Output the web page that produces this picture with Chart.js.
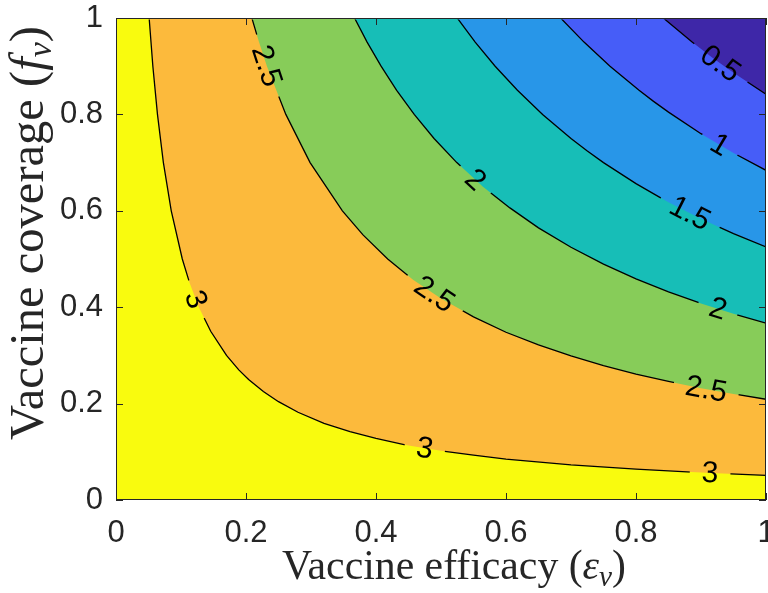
<!DOCTYPE html>
<html><head><meta charset="utf-8">
<script src="https://cdn.jsdelivr.net/npm/chart.js@4.4.0/dist/chart.umd.min.js"></script>
<style>html,body{margin:0;padding:0;background:#fff}</style>
</head><body>
<canvas id="c" width="768" height="593" style="display:block"></canvas>
<script>
// ---- data ----
const levels = [3, 2.5, 2, 1.5, 1, 0.5];
const xTicks = [0, 0.2, 0.4, 0.6, 0.8, 1];
const yTicks = [0, 0.2, 0.4, 0.6, 0.8, 1];

const e3  = [0, 0.051, 0.0567, 0.0638, 0.0729, 0.085, 0.102, 0.1133, 0.1275, 0.1457, 0.17, 0.1889, 0.204, 0.2267, 0.25, 0.28, 0.32, 0.36, 0.4, 0.45, 0.5, 0.55, 0.6, 0.7, 0.8, 0.9, 1];
const f3  = [1, 1, 0.9, 0.8, 0.7, 0.6, 0.5, 0.45, 0.4, 0.35, 0.3, 0.27, 0.25, 0.225, 0.204, 0.182, 0.159, 0.142, 0.128, 0.113, 0.102, 0.093, 0.085, 0.073, 0.064, 0.057, 0.051];
const e25 = [0, 0.209, 0.22, 0.2322, 0.2613, 0.2986, 0.3483, 0.38, 0.418, 0.457, 0.5, 0.55, 0.6, 0.65, 0.7, 0.75, 0.8, 0.85, 0.9, 0.95, 1];
const f25 = [1, 1, 0.95, 0.9, 0.8, 0.7, 0.6, 0.55, 0.5, 0.457, 0.418, 0.38, 0.348, 0.322, 0.299, 0.279, 0.261, 0.246, 0.232, 0.22, 0.209];
const e2  = [0, 0.367, 0.3863, 0.4078, 0.4318, 0.4588, 0.4893, 0.5243, 0.5646, 0.606, 0.65, 0.7, 0.75, 0.8, 0.85, 0.9, 0.95, 1];
const f2  = [1, 1, 0.95, 0.9, 0.85, 0.8, 0.75, 0.7, 0.65, 0.606, 0.5646, 0.5243, 0.4893, 0.4588, 0.4318, 0.4078, 0.3863, 0.367];
const e15 = [0, 0.525, 0.5526, 0.5833, 0.6176, 0.6563, 0.7, 0.7246, 0.75, 0.8, 0.85, 0.9, 0.95, 1];
const f15 = [1, 1, 0.95, 0.9, 0.85, 0.8, 0.75, 0.7246, 0.7, 0.6563, 0.6176, 0.5833, 0.5526, 0.525];
const e1  = [0, 0.684, 0.72, 0.76, 0.8047, 0.827, 0.85, 0.9, 0.95, 1];
const f1  = [1, 1, 0.95, 0.9, 0.85, 0.827, 0.8047, 0.76, 0.72, 0.684];
const e05 = [0, 0.842, 0.8863, 0.9176, 0.95, 1];
const f05 = [1, 1, 0.95, 0.9176, 0.8863, 0.842];

// contour labels: level and efficacy position along that contour
const labelLevels = [2.5, 2, 2.5, 3, 0.5, 1, 1.5, 2, 2.5, 3, 3];
const labelE      = [0.232, 0.553, 0.49, 0.123, 0.93, 0.929, 0.883, 0.926, 0.908, 0.475, 0.914];

// ---- styling ----
const contourE = [e3, e25, e2, e15, e1, e05];
const contourF = [f3, f25, f2, f15, f1, f05];
const belowColors = ['#F9FB0E', '#FCBA3C', '#87CC59', '#17BEB7', '#2896E8', '#465DF8'];
const topColor = '#3E27A8';
const axisColor = '#262626';
const tickFont = {family: 'Liberation Sans', size: 31};
const labelFont = '30px "Liberation Sans"';

const datasets = levels.map((lv, i) => ({
  label: String(lv),
  data: contourE[i].map((e, j) => ({x: e, y: contourF[i][j]})),
  borderColor: '#000',
  borderWidth: 1.3,
  pointRadius: 0,
  tension: 0,
  fill: 'origin',
  backgroundColor: belowColors[i]
}));

function labelGeom(chart, li) {
  const xs = chart.scales.x, ys = chart.scales.y;
  const di = levels.indexOf(labelLevels[li]);
  const E = contourE[di], F = contourF[di];
  const e = labelE[li];
  let j = 1;
  while (j < E.length - 2 && E[j + 1] < e) j++;
  const t = (e - E[j]) / (E[j + 1] - E[j]);
  const f = F[j] + t * (F[j + 1] - F[j]);
  const x0 = xs.getPixelForValue(E[j]), y0 = ys.getPixelForValue(F[j]);
  const x1 = xs.getPixelForValue(E[j + 1]), y1 = ys.getPixelForValue(F[j + 1]);
  let ang = Math.atan2(y1 - y0, x1 - x0);
  if (ang > Math.PI / 2) ang -= Math.PI;
  if (ang < -Math.PI / 2) ang += Math.PI;
  return {x: xs.getPixelForValue(e), y: ys.getPixelForValue(f), ang, text: String(labelLevels[li]), di};
}

function drawRich(ctx, parts, family, size, targetW, cx, baseY) {
  const fontOf = (p, s) => (p.it ? 'italic ' : '') + (p.sub ? s * 0.7 : s) + 'px ' + family;
  let total = 0;
  parts.forEach(p => { ctx.font = fontOf(p, size); total += ctx.measureText(p.t).width; });
  const s = size * targetW / total;
  let w = 0;
  parts.forEach(p => { ctx.font = fontOf(p, s); w += ctx.measureText(p.t).width; });
  let x = cx - w / 2;
  ctx.fillStyle = axisColor;
  ctx.textAlign = 'left';
  ctx.textBaseline = 'alphabetic';
  parts.forEach(p => {
    ctx.font = fontOf(p, s);
    ctx.fillText(p.t, x, baseY + (p.sub ? s * 0.16 : 0));
    x += ctx.measureText(p.t).width;
  });
}

const decor = {
  id: 'decor',
  beforeDraw(chart) {
    const {ctx, chartArea: a} = chart;
    ctx.save();
    ctx.fillStyle = topColor;
    ctx.fillRect(a.left, a.top, a.right - a.left, a.bottom - a.top);
    ctx.restore();
  },
  beforeDatasetDraw(chart, args) {
    const {ctx, chartArea: a} = chart;
    ctx.save();
    // hide the part of each contour that runs along the top edge of the box
    ctx.beginPath();
    ctx.rect(a.left - 3, a.top + 1.5, a.right - a.left + 6, a.bottom - a.top + 3);
    ctx.clip();
    // leave a gap where each inline label sits
    ctx.beginPath();
    ctx.rect(0, 0, chart.width, chart.height);
    ctx.font = labelFont;
    labelLevels.forEach((lv, li) => {
      if (lv !== levels[args.index]) return;
      const g = labelGeom(chart, li);
      const hw = ctx.measureText(g.text).width / 2 + 12, hh = 14;
      const c = Math.cos(g.ang), s = Math.sin(g.ang);
      const pts = [[-hw, -hh], [hw, -hh], [hw, hh], [-hw, hh]].map(([u, v]) => [g.x + u * c - v * s, g.y + u * s + v * c]);
      ctx.moveTo(pts[0][0], pts[0][1]);
      for (let k = 1; k < 4; k++) ctx.lineTo(pts[k][0], pts[k][1]);
      ctx.closePath();
    });
    ctx.clip('evenodd');
  },
  afterDatasetDraw(chart) {
    chart.ctx.restore();
  },
  afterDatasetsDraw(chart) {
    const {ctx, chartArea: a} = chart;
    const xs = chart.scales.x, ys = chart.scales.y;
    // contour labels
    ctx.save();
    ctx.font = labelFont;
    ctx.fillStyle = '#000';
    ctx.textAlign = 'center';
    ctx.textBaseline = 'middle';
    labelLevels.forEach((lv, li) => {
      const g = labelGeom(chart, li);
      ctx.save();
      ctx.translate(g.x, g.y);
      ctx.rotate(g.ang);
      ctx.fillText(g.text, 0, 1);
      ctx.restore();
    });
    ctx.restore();
    // box and inward ticks
    ctx.save();
    ctx.strokeStyle = axisColor;
    ctx.lineWidth = 1;
    ctx.strokeRect(a.left + 0.5, a.top + 0.5, a.right - a.left - 1, a.bottom - a.top - 1);
    const tl = 7;
    ctx.beginPath();
    xTicks.forEach(v => {
      const px = Math.round(xs.getPixelForValue(v)) + 0.5;
      ctx.moveTo(px, a.bottom); ctx.lineTo(px, a.bottom - tl);
      ctx.moveTo(px, a.top); ctx.lineTo(px, a.top + tl);
    });
    yTicks.forEach(v => {
      const py = Math.round(ys.getPixelForValue(v)) + 0.5;
      ctx.moveTo(a.left, py); ctx.lineTo(a.left + tl, py);
      ctx.moveTo(a.right, py); ctx.lineTo(a.right - tl, py);
    });
    ctx.stroke();
    ctx.restore();
  },
  afterDraw(chart) {
    const ctx = chart.ctx;
    ctx.save();
    drawRich(ctx, [{t: 'Vaccine efficacy ('}, {t: 'ε', it: true}, {t: 'v', it: true, sub: true}, {t: ')'}],
      '"Liberation Serif"', 36, 344, 454, 579);
    ctx.restore();
    ctx.save();
    ctx.translate(43, 233);
    ctx.rotate(-Math.PI / 2);
    drawRich(ctx, [{t: 'Vaccine coverage ('}, {t: 'f', it: true}, {t: 'v', it: true, sub: true}, {t: ')'}],
      '"Liberation Serif"', 40, 414, 0, 0);
    ctx.restore();
  }
};

new Chart(document.getElementById('c'), {
  type: 'line',
  data: {datasets},
  options: {
    responsive: false,
    animation: false,
    devicePixelRatio: 1,
    layout: {padding: {left: 0, top: 18, right: 2, bottom: 0}},
    plugins: {
      legend: {display: false},
      tooltip: {enabled: false},
      filler: {drawTime: 'beforeDatasetsDraw', propagate: false}
    },
    scales: {
      x: {
        type: 'linear', min: 0, max: 1,
        afterBuildTicks: s => { s.ticks = xTicks.map(v => ({value: v})); },
        ticks: {font: tickFont, color: axisColor, padding: 15, maxRotation: 0, autoSkip: false, callback: v => String(v)},
        grid: {display: false, drawTicks: false},
        border: {display: false},
        afterFit: s => { s.height = 93; s.paddingLeft = 0; s.paddingRight = 0; }
      },
      y: {
        type: 'linear', min: 0, max: 1,
        afterBuildTicks: s => { s.ticks = yTicks.map(v => ({value: v})); },
        ticks: {font: tickFont, color: axisColor, padding: 13, autoSkip: false, callback: v => String(v)},
        grid: {display: false, drawTicks: false},
        border: {display: false},
        afterFit: s => { s.width = 116; s.paddingTop = 0; s.paddingBottom = 0; }
      }
    }
  },
  plugins: [decor]
});
</script>
</body></html>
